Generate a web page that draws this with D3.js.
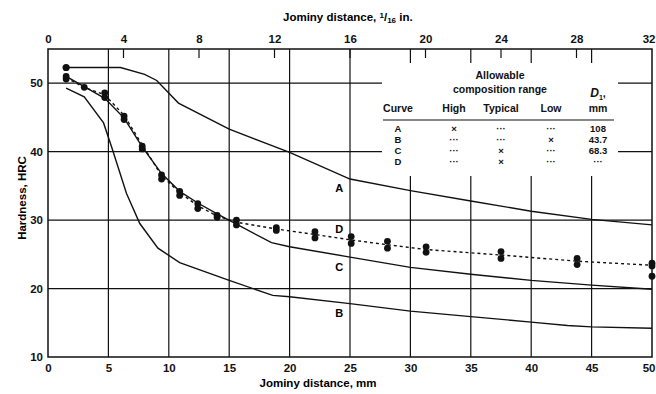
<!DOCTYPE html>
<html>
<head>
<meta charset="utf-8">
<script src="https://d3js.org/d3.v7.min.js"></script>
<style>
  body { margin: 0; background: #fff; }
  svg { font-family: "Liberation Sans", Arial, sans-serif; }
  .tick text { font-size: 11.5px; font-weight: bold; fill: #111; }
</style>
</head>
<body>
<svg id="chart" width="656" height="394"></svg>
<script>
// tick values
const mmTicks = [0, 5, 10, 15, 20, 25, 30, 35, 40, 45, 50];
const inTicks = [0, 4, 8, 12, 16, 20, 24, 28, 32];
const hrcTicks = [10, 20, 30, 40, 50];

// curves: [mm, HRC]
const curveA = [[1.5, 52.3], [6, 52.3], [8, 51.3], [9, 50.4], [10.8, 47.1], [15, 43.3], [20, 39.9],
  [25, 36.0], [30, 34.3], [35, 32.8], [40, 31.3], [45, 30.1], [50, 29.3]];
const curveB = [[1.5, 49.3], [3, 48.0], [4.6, 44.2], [5.3, 40.5], [6.5, 33.9], [7.6, 29.5], [9.1, 25.9],
  [10.9, 23.8], [15, 21.2], [18.6, 19.0], [20, 18.8], [25, 17.8], [30, 16.7], [35, 15.9], [40, 15.1],
  [43, 14.6], [45, 14.4], [50, 14.2]];
const curveC = [[1.5, 51.0], [3, 49.5], [4.7, 47.8], [6.3, 44.9], [7.8, 40.7], [9.4, 36.8], [10.9, 34.2],
  [12.4, 32.5], [14, 30.9], [15.6, 29.4], [18.5, 26.7], [20, 26.1], [25, 24.6], [30, 23.1], [35, 22.1],
  [40, 21.2], [45, 20.5], [50, 19.9]];
const curveD = [[1.5, 50.8], [3, 49.4], [4.7, 48.3], [6.3, 45.3], [7.8, 41.0], [9.4, 36.5], [10.9, 34.0],
  [12.4, 32.1], [14, 30.6], [15.6, 29.7], [18.9, 28.7], [22.1, 27.9], [25.1, 27.1], [28.1, 26.4],
  [31.3, 25.7], [37.5, 24.9], [43.8, 24.0], [50, 23.4]];

// measured points for D (several readings at each distance)
const dPoints = [[1.5, [51.0, 50.6]], [3, [49.4]], [4.7, [48.6, 47.9]], [6.3, [45.2, 44.7]],
  [7.8, [40.8, 40.4]], [9.4, [36.6, 36.0]], [10.9, [34.2, 33.6]], [12.4, [32.4, 31.7]],
  [14, [30.7, 30.4]], [15.6, [30.0, 29.3]], [18.9, [28.9, 28.5]], [22.1, [28.3, 27.4]],
  [25.1, [27.6, 26.6]], [28.1, [26.9, 25.9]], [31.3, [26.1, 25.3]], [37.5, [25.4, 24.4]],
  [43.8, [24.4, 23.5]], [50, [23.7, 23.3, 21.8]]];
const aStart = [1.5, 52.3];

// table
const tblCurve = ["A", "B", "C", "D"];
const tblHigh = ["×", "···", "···", "···"];
const tblTypical = ["···", "···", "×", "×"];
const tblLow = ["···", "×", "···", "···"];
const tblD1 = ["108", "43.7", "68.3", "···"];

const svg = d3.select("#chart");
const pLeft = 48, pRight = 652, pTop = 49, pBottom = 357;

const x = d3.scaleLinear().domain([0, 50]).range([pLeft, pRight]);
const xIn = d3.scaleLinear().domain([0, 32]).range([pLeft, pRight]);
const y = d3.scaleLinear().domain([10, 55]).range([pBottom, pTop]);

// grid
svg.append("g").selectAll("line")
  .data(mmTicks.slice(1, -1))
  .join("line")
  .attr("x1", d => x(d)).attr("x2", d => x(d))
  .attr("y1", pTop).attr("y2", pBottom)
  .attr("stroke", "#111").attr("stroke-width", 1.2);
svg.append("g").selectAll("line")
  .data(hrcTicks.slice(1))
  .join("line")
  .attr("x1", pLeft).attr("x2", pRight)
  .attr("y1", d => y(d)).attr("y2", d => y(d))
  .attr("stroke", "#111").attr("stroke-width", 1.2);

// short ticks of the inch scale, pointing down from the top edge
svg.append("g").selectAll("line")
  .data(inTicks.slice(1, -1))
  .join("line")
  .attr("x1", d => xIn(d)).attr("x2", d => xIn(d))
  .attr("y1", pTop).attr("y2", pTop + 9)
  .attr("stroke", "#111").attr("stroke-width", 1.2);

svg.append("rect")
  .attr("x", pLeft).attr("y", pTop)
  .attr("width", pRight - pLeft).attr("height", pBottom - pTop)
  .attr("fill", "none").attr("stroke", "#111").attr("stroke-width", 1.5);

// last label on each horizontal axis sits against the right edge
const pullLast = g => g.selectAll(".tick:last-of-type text")
  .attr("text-anchor", "end").attr("x", 3);

// axes (labels only)
svg.append("g")
  .attr("transform", `translate(0,${pBottom})`)
  .call(d3.axisBottom(x).tickValues(mmTicks).tickSize(0).tickPadding(7))
  .call(g => g.select(".domain").remove())
  .call(pullLast);
svg.append("g")
  .attr("transform", `translate(0,${pTop})`)
  .call(d3.axisTop(xIn).tickValues(inTicks).tickSize(0).tickPadding(6))
  .call(g => g.select(".domain").remove())
  .call(pullLast);
svg.append("g")
  .attr("transform", `translate(${pLeft},0)`)
  .call(d3.axisLeft(y).tickValues(hrcTicks).tickSize(0).tickPadding(5))
  .call(g => g.select(".domain").remove());

// axis titles
svg.append("text")
  .attr("x", 318).attr("y", 387)
  .attr("text-anchor", "middle")
  .style("font-size", "11.5px").style("font-weight", "600")
  .text("Jominy distance, mm");

const topTitle = svg.append("text")
  .attr("x", 283).attr("y", 21)
  .attr("text-anchor", "start")
  .style("font-size", "11.5px").style("font-weight", "600");
topTitle.append("tspan").text("Jominy distance, ");
topTitle.append("tspan").attr("dy", -3).style("font-size", "8px").text("1");
topTitle.append("tspan").attr("dy", 3).text("/");
topTitle.append("tspan").attr("dy", 2).style("font-size", "8px").text("16");
topTitle.append("tspan").attr("dy", -2).text(" in.");

svg.append("text")
  .attr("transform", "translate(26,198) rotate(-90)")
  .attr("text-anchor", "middle")
  .style("font-size", "11.5px").style("font-weight", "600")
  .text("Hardness, HRC");

// white panel for the table
svg.append("rect")
  .attr("x", 382).attr("y", 63)
  .attr("width", 236).attr("height", 113)
  .attr("fill", "#fff");

// curves
const line = d3.line().x(d => x(d[0])).y(d => y(d[1]));
[curveA, curveB, curveC].forEach(c => {
  svg.append("path").datum(c)
    .attr("d", line)
    .attr("fill", "none").attr("stroke", "#111").attr("stroke-width", 1.4);
});
svg.append("path").datum(curveD)
  .attr("d", line)
  .attr("fill", "none").attr("stroke", "#111").attr("stroke-width", 1.4)
  .attr("stroke-dasharray", "3,3");

// points
const flat = dPoints.flatMap(([mm, vals]) => vals.map(v => [mm, v]));
svg.append("g").selectAll("circle")
  .data(flat)
  .join("circle")
  .attr("cx", d => x(d[0])).attr("cy", d => y(d[1]))
  .attr("r", 3.4).attr("fill", "#111");
svg.append("circle")
  .attr("cx", x(aStart[0])).attr("cy", y(aStart[1]))
  .attr("r", 3.6).attr("fill", "#111");

// curve labels
const lab = (t, mm, h) => svg.append("text")
  .attr("x", x(mm)).attr("y", y(h))
  .attr("text-anchor", "middle").attr("dominant-baseline", "central")
  .style("font-size", "11px").style("font-weight", "bold")
  .text(t);
lab("A", 24.1, 34.7);
lab("D", 24.1, 28.7);
lab("C", 24.1, 23.2);
lab("B", 24.1, 16.4);

// table text
const tb = svg.append("g")
  .style("font-size", "10.5px").style("font-weight", "bold").attr("fill", "#111");
tb.append("text").attr("x", 500).attr("y", 79).attr("text-anchor", "middle").text("Allowable");
tb.append("text").attr("x", 500).attr("y", 93).attr("text-anchor", "middle").text("composition range");
const d1 = tb.append("text").attr("x", 598).attr("y", 97).attr("text-anchor", "middle");
d1.append("tspan").style("font-style", "italic").style("font-size", "12px").text("D");
d1.append("tspan").attr("dy", 3).style("font-size", "7px").text("1");
d1.append("tspan").attr("dy", -3).text(",");
const cols = [398, 454, 501, 551, 598];
["Curve", "High", "Typical", "Low", "mm"].forEach((t, i) => {
  tb.append("text").attr("x", cols[i]).attr("y", 112).attr("text-anchor", "middle").text(t);
});
tb.append("line").attr("x1", 383).attr("x2", 614).attr("y1", 120).attr("y2", 120)
  .attr("stroke", "#111").attr("stroke-width", 1.2);
const rowsY = [132, 143, 154, 165];
[tblCurve, tblHigh, tblTypical, tblLow, tblD1].forEach((col, i) => {
  col.forEach((t, j) => {
    tb.append("text").attr("x", cols[i]).attr("y", rowsY[j])
      .attr("text-anchor", "middle").style("font-size", "9.5px").text(t);
  });
});
</script>
</body>
</html>
